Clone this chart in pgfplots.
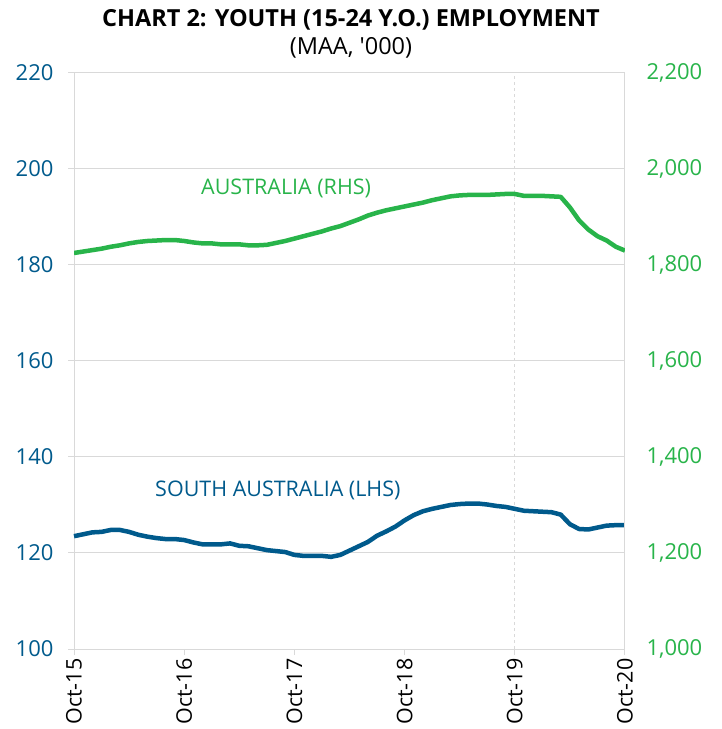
\documentclass[border=0pt]{standalone}
\usepackage{pgfplots}
\pgfplotsset{compat=1.18}
\usepackage{fontspec}
\setmainfont{Open Sans}
\newfontfamily\nomap{Open Sans}[Ligatures=TeXOff]
\definecolor{sablue}{RGB}{0,90,140}
\definecolor{ausgreen}{RGB}{40,180,74}
\definecolor{gridgray}{RGB}{217,217,217}

\pgfplotstableread{
m sa
0 123.5
1 123.9
2 124.3
3 124.4
4 124.8
5 124.8
6 124.4
7 123.8
8 123.4
9 123.1
10 122.9
11 122.9
12 122.7
13 122.2
14 121.8
15 121.8
16 121.8
17 122.0
18 121.5
19 121.4
20 121.0
21 120.6
22 120.4
23 120.2
24 119.6
25 119.4
26 119.4
27 119.4
28 119.2
29 119.6
30 120.5
31 121.4
32 122.3
33 123.6
34 124.5
35 125.5
36 126.8
37 127.9
38 128.7
39 129.2
40 129.6
41 130.0
42 130.2
43 130.3
44 130.3
45 130.1
46 129.8
47 129.6
48 129.2
49 128.8
50 128.7
51 128.6
52 128.5
53 128.0
54 126.0
55 125.0
56 124.9
57 125.3
58 125.7
59 125.8
60 125.8
}\satable

\pgfplotstableread{
m aus
0 1825
1 1828
2 1831
3 1834
4 1838
5 1841
6 1845
7 1848
8 1850
9 1851
10 1852
11 1852
12 1850
13 1847
14 1845
15 1845
16 1843
17 1843
18 1843
19 1841
20 1841
21 1842
22 1846
23 1850
24 1855
25 1860
26 1865
27 1870
28 1876
29 1881
30 1888
31 1895
32 1903
33 1909
34 1914
35 1918
36 1922
37 1926
38 1930
39 1935
40 1939
41 1943
42 1945
43 1946
44 1946
45 1946
46 1947
47 1948
48 1948
49 1944
50 1944
51 1944
52 1943
53 1942
54 1920
55 1893
56 1874
57 1860
58 1851
59 1838
60 1830
}\austable

\begin{document}
\begin{tikzpicture}[x=1pt,y=1pt]
\useasboundingbox (0,0) rectangle (722,729);
\clip (0,0) rectangle (722,729);
\node[font=\bfseries\fontsize{23.5}{28}\selectfont, anchor=center] at (351,709) {CHART 2: YOUTH (15-24 Y.O.) EMPLOYMENT};
\node[font=\nomap\fontsize{23.5}{28}\selectfont, anchor=center] at (351,681) {(MAA, '000)};
\begin{axis}[
  at={(74pt,80pt)}, anchor=south west,
  scale only axis, width=551pt, height=576pt,
  xmin=0, xmax=60, ymin=100, ymax=220,
  xtick={0,12,24,36,48,60},
  xticklabels={Oct-15,Oct-16,Oct-17,Oct-18,Oct-19,Oct-20},
  x tick label style={rotate=90, anchor=east, font=\fontsize{21.5}{25}\selectfont, black},
  ytick={100,120,...,220},
  y tick label style={font=\fontsize{22}{26}\selectfont, text=sablue, xshift=-11pt},
  /pgf/number format/assume math mode=true,
  ymajorgrids, major grid style={gridgray, line width=1pt},
  axis line style={gridgray, line width=1pt},
  tick style={gridgray, line width=1pt},
  tick align=outside, major tick length=6pt,
  xtick pos=bottom, ytick pos=left,
  axis y line*=left,
  clip=false,
]
\draw[gridgray, dashed, line width=1pt] (axis cs:48,100) -- (axis cs:48,220);
\draw[gridgray, line width=1pt] (axis cs:0,220) -- (axis cs:60,220) -- (axis cs:60,100);
\addplot[sablue, line width=4.5pt, line join=round] table[x=m, y=sa] {\satable};
\node[font=\fontsize{21.5}{25}\selectfont, text=sablue] at (axis cs:22.2,133.1) {SOUTH AUSTRALIA (LHS)};
\node[font=\fontsize{21.5}{25}\selectfont, text=ausgreen] at (axis cs:23.1,196.0) {AUSTRALIA (RHS)};
\end{axis}
\begin{axis}[
  at={(74pt,80pt)}, anchor=south west,
  scale only axis, width=551pt, height=576pt,
  xmin=0, xmax=60, ymin=1000, ymax=2200,
  axis x line=none,
  axis y line*=right,
  ytick={1000,1200,...,2200},
  y tick label style={font=\fontsize{22}{26}\selectfont, text=ausgreen, xshift=18pt},
  /pgf/number format/assume math mode=true,
  /pgf/number format/1000 sep={,},
  axis line style={gridgray, line width=1pt},
  major tick length=0pt,
]
\addplot[ausgreen, line width=4.5pt, line join=round] table[x=m, y=aus] {\austable};
\end{axis}
\end{tikzpicture}
\end{document}
